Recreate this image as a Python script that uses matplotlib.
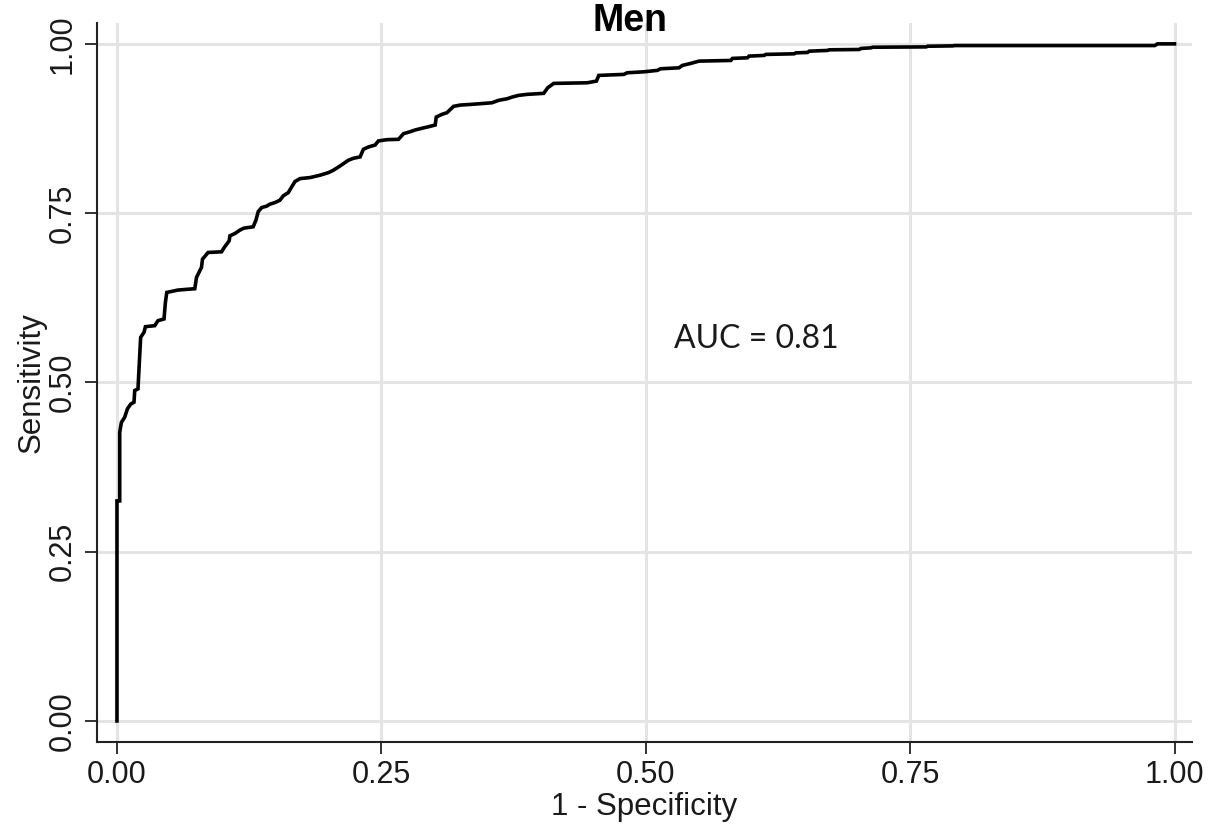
import matplotlib
matplotlib.use('Agg')
import matplotlib.pyplot as plt
from matplotlib import font_manager

# ROC curve points (1 - specificity, sensitivity)
fpr = [0.0, 0.0, 0.0026, 0.0026, 0.0042, 0.0073, 0.0099, 0.013, 0.0161, 0.0168,
       0.0199, 0.0206, 0.0224, 0.0256, 0.0269, 0.0357, 0.0388, 0.0445, 0.0458, 0.0471,
       0.0578, 0.0736, 0.0752, 0.0799, 0.0809, 0.0862, 0.0989, 0.1019, 0.1061, 0.1068,
       0.1115, 0.1162, 0.12, 0.1288, 0.1314, 0.1336, 0.1368, 0.1415, 0.1446, 0.1494,
       0.1541, 0.1572, 0.162, 0.1652, 0.1683, 0.1731, 0.1825, 0.192, 0.1999, 0.2046,
       0.211, 0.2188, 0.2236, 0.2299, 0.233, 0.2378, 0.2441, 0.2472, 0.2552, 0.2662,
       0.2709, 0.2773, 0.282, 0.2883, 0.2946, 0.3009, 0.3019, 0.3073, 0.312, 0.3183,
       0.3246, 0.3357, 0.3546, 0.3609, 0.3689, 0.3736, 0.3798, 0.3878, 0.4035, 0.4073,
       0.413, 0.4446, 0.4534, 0.4556, 0.4793, 0.4825, 0.4982, 0.5109, 0.5141, 0.5314,
       0.5346, 0.5425, 0.5504, 0.5804, 0.582, 0.5962, 0.5977, 0.6119, 0.6135, 0.6403,
       0.6419, 0.653, 0.6546, 0.672, 0.6735, 0.7019, 0.7035, 0.713, 0.7146, 0.7651,
       0.7667, 0.7904, 0.7919, 0.9813, 0.984, 1.0]
tpr = [0.0, 0.325, 0.325, 0.4265, 0.441, 0.4486, 0.461, 0.468, 0.4707, 0.488,
       0.4905, 0.5126, 0.5666, 0.574, 0.5823, 0.5838, 0.5912, 0.5937, 0.6182, 0.6329,
       0.6364, 0.6384, 0.655, 0.6698, 0.6821, 0.6919, 0.6929, 0.7003, 0.7091, 0.7165,
       0.7199, 0.7249, 0.7278, 0.7298, 0.7396, 0.7523, 0.7582, 0.7603, 0.7632, 0.7656,
       0.7691, 0.7755, 0.7803, 0.7887, 0.7966, 0.801, 0.8025, 0.806, 0.8098, 0.8133,
       0.8197, 0.8281, 0.831, 0.833, 0.8443, 0.8477, 0.8506, 0.8566, 0.8585, 0.859,
       0.8673, 0.8703, 0.8728, 0.8753, 0.8776, 0.8801, 0.8919, 0.8959, 0.8983, 0.9077,
       0.9096, 0.9107, 0.913, 0.9166, 0.9189, 0.9214, 0.9239, 0.9254, 0.9269, 0.9351,
       0.9416, 0.9425, 0.945, 0.9534, 0.9549, 0.9573, 0.9587, 0.9608, 0.9632, 0.9646,
       0.9681, 0.9711, 0.9745, 0.9755, 0.9785, 0.9794, 0.9819, 0.9829, 0.9844, 0.9853,
       0.9867, 0.9873, 0.9892, 0.9903, 0.9912, 0.9917, 0.9932, 0.9941, 0.995, 0.9955,
       0.9965, 0.997, 0.9975, 0.9975, 1.0, 1.0]

ticks = [0.0, 0.25, 0.5, 0.75, 1.0]
tick_labels = ['0.00', '0.25', '0.50', '0.75', '1.00']
auc_text = 'AUC = 0.81'

installed = {f.name for f in font_manager.fontManager.ttflist}
title_font = 'Liberation Sans Narrow' if 'Liberation Sans Narrow' in installed else 'Liberation Sans'

plt.rcParams['font.family'] = ['Liberation Sans', 'DejaVu Sans']

fig = plt.figure(figsize=(12.22, 8.30), dpi=100)
ax = fig.add_axes([0.0791, 0.1064, 0.8964, 0.8663])

ax.plot(fpr, tpr, color='black', lw=2.6, solid_joinstyle='miter', zorder=3)

ax.set_xlim(-0.0192, 1.0166)
ax.set_ylim(-0.0306, 1.0313)
ax.set_xticks(ticks)
ax.set_xticklabels(tick_labels)
ax.set_yticks(ticks)
ax.set_yticklabels(tick_labels, rotation=90, va='center')
ax.grid(True, color='#e4e4e4', lw=2.2)
ax.set_axisbelow(True)

for side in ['top', 'right']:
    ax.spines[side].set_visible(False)
for side in ['left', 'bottom']:
    ax.spines[side].set_linewidth(1.5)
    ax.spines[side].set_color('#222222')
ax.tick_params(direction='out', length=8.5, width=1.3, color='#222222',
               labelsize=22, pad=5, labelcolor='#1a1a1a')

ax.set_xlabel('1 - Specificity', fontsize=22.5, labelpad=1, color='#1a1a1a')
ax.set_ylabel('Sensitivity', fontsize=22.5, labelpad=1, color='#1a1a1a')

ax.text(0.5264, 0.564, auc_text, fontsize=23, family='Lato', ha='left', va='center',
        color='#1a1a1a')
fig.text(630 / 1222, 1 - 21 / 830, 'Men', fontsize=27, fontweight='bold',
         family=title_font, ha='center', va='center')

plt.savefig('out.png', dpi=100)
